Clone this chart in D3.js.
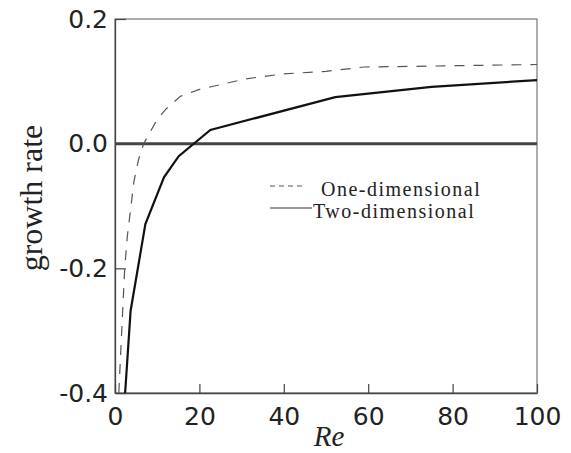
<!DOCTYPE html>
<html>
<head>
<meta charset="utf-8">
<script src="https://cdn.jsdelivr.net/npm/d3@7"></script>
<style>
  body { margin: 0; background: #fff; }
  svg { display: block; }
</style>
</head>
<body>
<svg id="chart"></svg>
<script>
// Data
const oneRe = [0.9, 2.3, 2.9, 4.5, 5.6, 6.8, 10, 12, 15.5, 20, 31, 40, 50, 59, 70, 100];
const oneRate = [-0.4, -0.2, -0.15, -0.06, -0.025, 0, 0.039, 0.055, 0.076, 0.087, 0.104, 0.112, 0.116, 0.123, 0.124, 0.127];
const twoRe = [2.4, 3.7, 7.2, 11.6, 15.1, 22.6, 52.2, 75, 100];
const twoRate = [-0.4, -0.268, -0.129, -0.054, -0.02, 0.022, 0.0746, 0.091, 0.102];
const xTicks = [0, 20, 40, 60, 80, 100];
const yTicks = [-0.4, -0.2, 0.0, 0.2];
const legendLabels = ['One-dimensional', 'Two-dimensional'];

const W = 571, H = 453;
const margin = { top: 19, right: 34, bottom: 60, left: 115 },
  width = W - margin.left - margin.right,
  height = H - margin.top - margin.bottom;

const svg = d3.select('#chart').attr('width', W).attr('height', H);
const g = svg.append('g').attr('transform', 'translate(' + margin.left + ',' + margin.top + ')');

const x = d3.scaleLinear().domain([0, 100]).range([0, width]);
const y = d3.scaleLinear().domain([-0.4, 0.2]).range([height, 0]);

// frame
g.append('rect')
  .attr('width', width).attr('height', height)
  .attr('fill', 'none').attr('stroke', '#777').attr('stroke-width', 1.2);

// axes with inward ticks
const xAxis = g.append('g')
  .attr('transform', 'translate(0,' + height + ')')
  .call(d3.axisBottom(x).tickValues(xTicks).tickSizeInner(-9).tickSizeOuter(0).tickPadding(14).tickFormat(d3.format('d')));
const yAxis = g.append('g')
  .call(d3.axisLeft(y).tickValues(yTicks).tickSizeInner(-11).tickSizeOuter(0).tickPadding(7)
    .tickFormat(function (d) { return d3.format('.1f')(d).replace('\u2212', '-'); }));

[xAxis, yAxis].forEach(function (a) {
  a.select('.domain').attr('stroke', '#444').attr('stroke-width', 1.3);
  a.selectAll('.tick line').attr('stroke', '#444').attr('stroke-width', 1.2);
  a.selectAll('.tick text')
    .attr('fill', '#222')
    .style('font-family', 'DejaVu Sans, sans-serif')
    .style('font-size', '25px');
});
xAxis.selectAll('.tick text').attr('dy', '0.71em');

// zero line
g.append('line')
  .attr('x1', 0).attr('x2', width)
  .attr('y1', y(0)).attr('y2', y(0))
  .attr('stroke', '#444').attr('stroke-width', 3);

// curves
const line = d3.line()
  .x(function (d) { return x(d[0]); })
  .y(function (d) { return y(d[1]); })
  .curve(d3.curveLinear);

g.append('path')
  .datum(d3.zip(oneRe, oneRate))
  .attr('fill', 'none')
  .attr('stroke', '#555')
  .attr('stroke-width', 1.2)
  .attr('stroke-dasharray', '10,9')
  .attr('d', line);

g.append('path')
  .datum(d3.zip(twoRe, twoRate))
  .attr('fill', 'none')
  .attr('stroke', '#111')
  .attr('stroke-width', 2.2)
  .attr('d', line);

// legend
const leg = svg.append('g');
leg.append('line')
  .attr('x1', 270).attr('x2', 306).attr('y1', 186).attr('y2', 186)
  .attr('stroke', '#555').attr('stroke-width', 1.1).attr('stroke-dasharray', '5,4');
leg.append('line')
  .attr('x1', 270).attr('x2', 312).attr('y1', 208).attr('y2', 208)
  .attr('stroke', '#333').attr('stroke-width', 1.2);
leg.append('text')
  .attr('x', 321).attr('y', 196)
  .style('font-family', 'Liberation Serif, serif').style('font-size', '20px').style('letter-spacing', '1.5px').attr('fill', '#222')
  .text(legendLabels[0]);
leg.append('text')
  .attr('x', 313).attr('y', 218)
  .style('font-family', 'Liberation Serif, serif').style('font-size', '20px').style('letter-spacing', '1.5px').attr('fill', '#222')
  .text(legendLabels[1]);

// axis titles
svg.append('text')
  .attr('x', margin.left + width / 2 + 3).attr('y', 446)
  .attr('text-anchor', 'middle')
  .style('font-family', 'Liberation Serif, serif').style('font-style', 'italic').style('font-size', '29px')
  .attr('fill', '#222')
  .text('Re');

svg.append('text')
  .attr('transform', 'translate(42,198) rotate(-90)')
  .attr('text-anchor', 'middle')
  .style('font-family', 'Liberation Serif, serif').style('font-size', '32px')
  .attr('fill', '#222')
  .text('growth rate');
</script>
</body>
</html>
